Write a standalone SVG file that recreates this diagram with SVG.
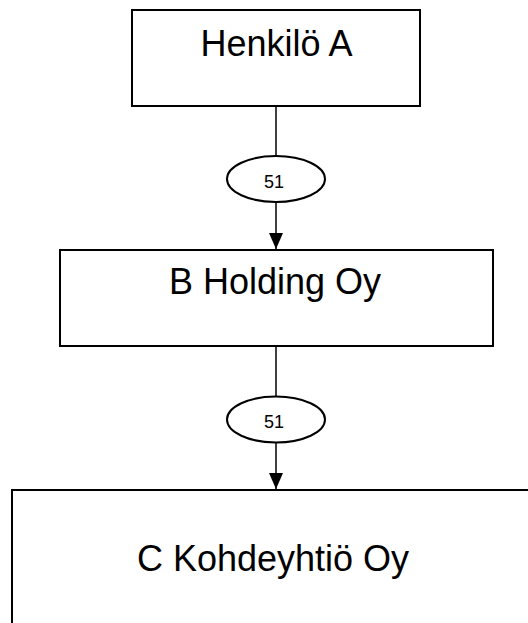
<svg xmlns="http://www.w3.org/2000/svg" width="528" height="623" viewBox="0 0 528 623">
<style>
.box{fill:#fff;stroke:#000;stroke-width:2}
.lbl{font-family:"Liberation Sans",Arial,sans-serif;font-size:36px;fill:#000;text-anchor:middle}
.conn{stroke:#000;stroke-width:1.5;fill:none}
.oval{fill:#fff;stroke:#000;stroke-width:2}
.num{font-family:"Liberation Sans",Arial,sans-serif;font-size:18px;fill:#000;text-anchor:middle}
</style>
<defs>
<marker id="arrow" markerUnits="userSpaceOnUse" markerWidth="16" markerHeight="14" viewBox="0 0 16 14" refX="16" refY="7" orient="auto">
<path d="M0,0 L16,7 L0,14 Z" fill="#000"/>
</marker>
</defs>
<rect width="528" height="623" fill="#fff"/>
<g id="node-henkilo-a">
<rect class="box" x="132" y="10" width="288" height="96"/>
<text class="lbl" x="276.5" y="56">Henkilö A</text>
</g>
<g id="node-b-holding">
<rect class="box" x="60" y="250" width="433" height="96"/>
<text class="lbl" x="275" y="294">B Holding Oy</text>
</g>
<g id="node-c-kohdeyhtio">
<rect class="box" x="12" y="490" width="530" height="150"/>
<text class="lbl" x="273" y="571">C Kohdeyhtiö Oy</text>
</g>
<g id="connectors">
<line class="conn" x1="276" y1="106" x2="276" y2="249" marker-end="url(#arrow)"/>
<line class="conn" x1="276" y1="346" x2="276" y2="489" marker-end="url(#arrow)"/>
<ellipse class="oval" cx="276" cy="179" rx="49" ry="23"/>
<text class="num" x="274" y="188">51</text>
<ellipse class="oval" cx="276" cy="419.5" rx="49" ry="23"/>
<text class="num" x="274" y="428">51</text>
</g>
</svg>
